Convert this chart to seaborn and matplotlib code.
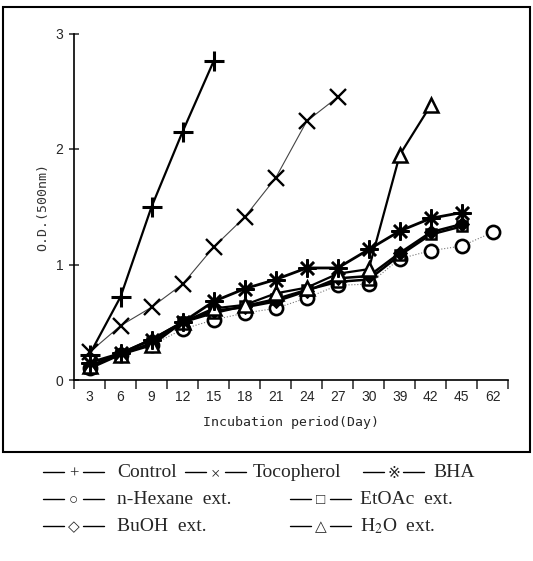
import numpy as np
import pandas as pd
import matplotlib
matplotlib.use("Agg")
import matplotlib.pyplot as plt
import seaborn as sns
from matplotlib.patches import Rectangle
from matplotlib.lines import Line2D

# Incubation days (categorical axis) and O.D. readings per treatment
days = [3, 6, 9, 12, 15, 18, 21, 24, 27, 30, 39, 42, 45, 62]
control = [0.22, 0.72, 1.50, 2.15, 2.76]
tocopherol = [0.24, 0.47, 0.63, 0.83, 1.15, 1.41, 1.75, 2.24, 2.45]
bha = [0.15, 0.23, 0.35, 0.50, 0.68, 0.79, 0.87, 0.97, 0.97, 1.13, 1.29, 1.40, 1.45]
hexane = [0.10, 0.22, 0.30, 0.44, 0.52, 0.58, 0.62, 0.71, 0.82, 0.83, 1.05, 1.12, 1.16, 1.28]
etoac = [0.10, 0.22, 0.32, 0.50, 0.58, 0.64, 0.70, 0.78, 0.85, 0.87, 1.08, 1.26, 1.33]
buoh = [0.12, 0.23, 0.35, 0.50, 0.60, 0.63, 0.68, 0.77, 0.88, 0.90, 1.10, 1.28, 1.35]
h2o = [0.12, 0.22, 0.30, 0.50, 0.62, 0.65, 0.75, 0.80, 0.92, 0.96, 1.95, 2.38]

legend_rows = [
    [("+", "Control"), ("×", "Tocopherol"), ("※", "BHA")],
    [("○", "n-Hexane  ext."), ("□", "EtOAc  ext.")],
    [("◇", "BuOH  ext."), ("△", "H$_2$O  ext.")],
]

sns.set_style("ticks")
plt.rcParams["font.family"] = ["Liberation Sans", "DejaVu Sans"]
plt.rcParams["mathtext.fontset"] = "stix"

W, H = 533, 561
fig = plt.figure(figsize=(W / 100, H / 100), dpi=100)
ax = fig.add_axes([74 / W, 1 - 380 / H, 434.4 / W, 346.5 / H])


def draw(vals, color="black", **kw):
    x = np.arange(len(vals))
    sns.lineplot(x=x, y=vals, ax=ax, color=color, legend=False, **kw)


draw(hexane, lw=0.8, ls=":", color="#777777", marker="o", ms=9.5,
     mfc="white", mec="black", mew=1.9)
draw(etoac, lw=1.8, marker="s", ms=7, mfc="white", mec="black", mew=1.8)
draw(buoh, lw=1.8, marker="D", ms=7, mfc="black", mec="black")
draw(h2o, lw=1.6, marker="^", ms=10, mfc="white", mec="black", mew=1.8)
draw(bha, lw=2.0, marker=(8, 2, 0), ms=13, mec="black", mew=1.8)
draw(tocopherol, lw=0.8, color="#444444", marker="x", ms=11, mec="black", mew=1.7)
draw(control, lw=1.6, marker="+", ms=15, mec="black", mew=2.2)

ax.set_xlim(-0.5, len(days) - 0.5)
ax.set_ylim(0, 3)
sns.despine(ax=ax)
for s in ["left", "bottom"]:
    ax.spines[s].set_linewidth(1.2)
    ax.spines[s].set_color("black")

ax.set_xticks(np.arange(len(days) + 1) - 0.5)
ax.set_xticklabels([])
ax.set_xticks(np.arange(len(days)), minor=True)
ax.set_xticklabels([str(d) for d in days], minor=True, fontsize=10)
ax.tick_params(axis="x", which="major", direction="out", length=6.5, width=1.1)
ax.tick_params(axis="x", which="minor", length=0, pad=7)

ax.set_yticks([0, 1, 2, 3])
ax.set_yticklabels(["0", "1", "2", "3"], fontsize=10)
ax.tick_params(axis="y", direction="inout", length=7.5, width=1.1, pad=4)

ax.set_xlabel("Incubation period(Day)", family="DejaVu Sans Mono", fontsize=9.5, va="center")
ax.xaxis.set_label_coords(0.5, -0.124)
ax.set_ylabel("O.D.(500nm)", family="DejaVu Sans Mono", fontsize=9.5, va="center",
              color="#333333")
ax.yaxis.set_label_coords(-0.071, 0.5)

# frame around the plot panel
fig.patches.append(Rectangle((3 / W, 1 - 452 / H), 527 / W, 445 / H,
                             transform=fig.transFigure, fill=False,
                             edgecolor="black", lw=1.5))

# text legend below the panel: dash, symbol, dash, then the name
fam = ["Liberation Serif", "DejaVu Sans"]
row_base = [477, 504, 531]
row_x = [[43, 185, 363], [43, 290], [43, 290]]
name_gap = [[74, 68, 70], [74, 70], [74, 70]]
for r, row in enumerate(legend_rows):
    for c, (sym, name) in enumerate(row):
        x0 = row_x[r][c]
        yb = 1 - row_base[r] / H
        yd = 1 - (row_base[r] - 5) / H
        for xa, xb in [(x0, x0 + 21), (x0 + 40, x0 + 61)]:
            fig.add_artist(Line2D([xa / W, xb / W], [yd, yd], color="black", lw=1.0,
                                  transform=fig.transFigure))
        fig.text((x0 + 30.5) / W, yd - 2 / H, sym, family=fam,
                 fontsize=12 if sym in "+×" else 11, va="center", ha="center")
        fig.text((x0 + name_gap[r][c]) / W, yb, name, family=fam, fontsize=14,
                 va="baseline", ha="left")

fig.savefig("out.png", dpi=100, facecolor="white")
